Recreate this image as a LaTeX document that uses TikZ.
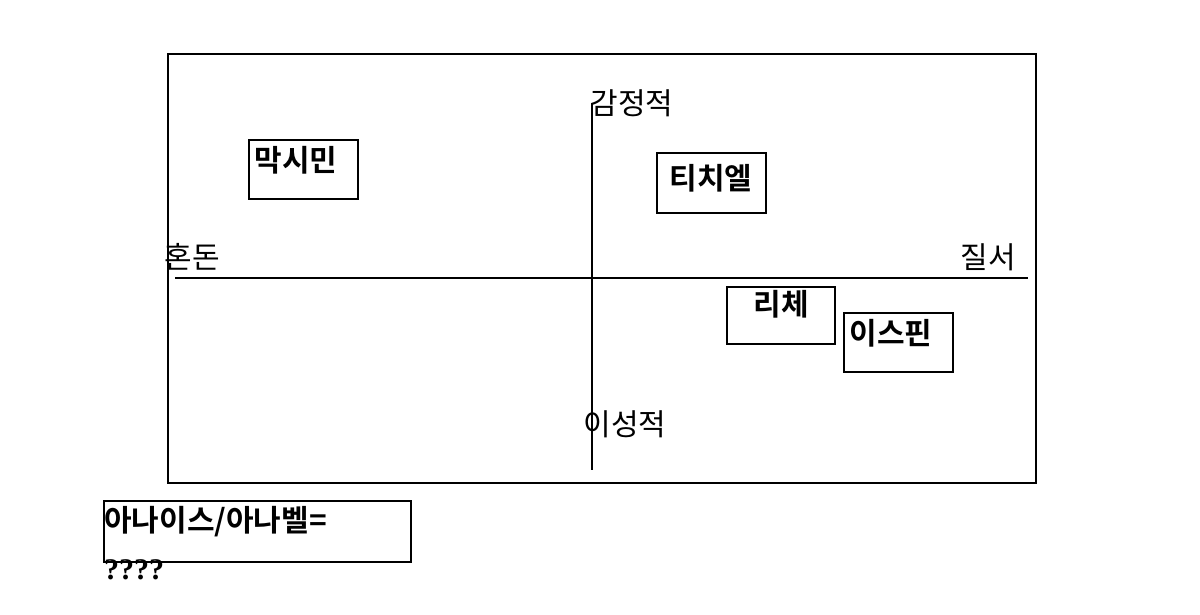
\documentclass[tikz,border=0pt]{standalone}
\usepackage{fontspec}
\newfontfamily\kr{Noto Sans CJK KR}
\newfontfamily\krb{Noto Sans CJK KR Bold}
\setmainfont{Liberation Serif}
\begin{document}
\begin{tikzpicture}[x=1pt,y=-1pt,
  lab/.style={font=\kr\fontsize{30}{32}\selectfont, inner sep=0},
  nm/.style={font=\krb\fontsize{30}{32}\selectfont, inner sep=0},
  box/.style={draw, line width=1.6pt}]
\useasboundingbox (0,0) rectangle (1200,615);
\draw[line width=1.6pt] (168,54) rectangle (1036,483);
\coordinate (hl) at (175,278); \coordinate (hr) at (1028,278);
\coordinate (vt) at (592,103); \coordinate (vb) at (592,470);
\draw[line width=1.3pt] (hl) -- (hr);
\draw[line width=1.3pt] (vt) -- (vb);
\node[lab] (g) at (632,103) {감정적};
\node[lab] (i) at (625,424) {이성적};
\node[lab] (h) at (192,257) {혼돈};
\node[lab] (j) at (988,257) {질서};
\draw[box] (249,140) rectangle (358,199);
\node[nm] (m) at (296,160) {막시민};
\draw[box] (657,153) rectangle (766,213);
\node[nm] (t) at (711,178) {티치엘};
\draw[box] (727,287) rectangle (835,344);
\node[nm] (r) at (781,304) {리체};
\draw[box] (844,313) rectangle (953,372);
\node[nm] (s) at (891,333) {이스핀};
\draw[box] (104,501) rectangle (411,562);
\node[nm, anchor=west] (a) at (104,522) {아나이스/아나벨=};
\node[font=\bfseries\fontsize{30}{32}\selectfont, anchor=west, inner sep=0] (q) at (104,570) {????};
\end{tikzpicture}
\end{document}
